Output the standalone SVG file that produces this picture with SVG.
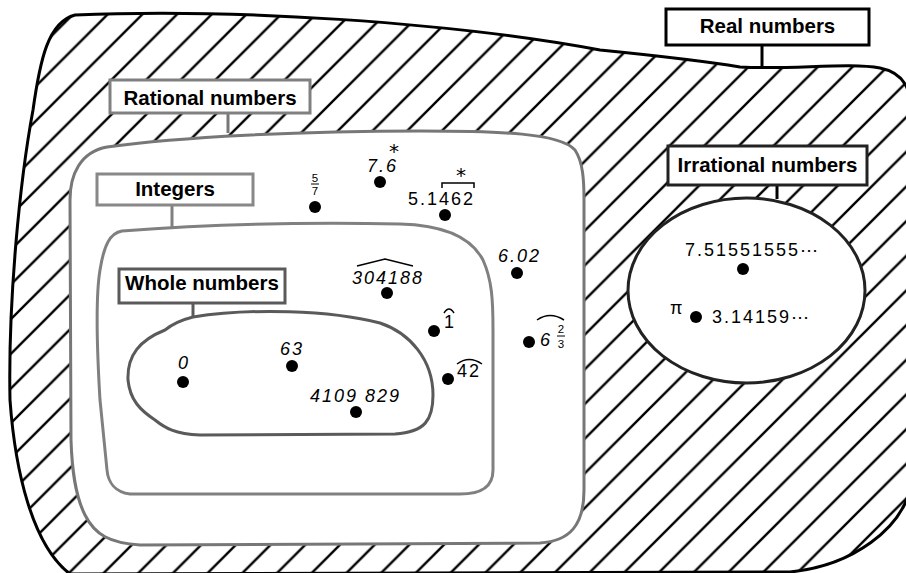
<svg xmlns="http://www.w3.org/2000/svg" width="906" height="573" viewBox="0 0 906 573">
<style>
.lbl{font-family:"Liberation Sans",Arial,sans-serif;font-weight:bold;font-size:20.5px;fill:#000;text-anchor:middle}
.box{fill:#fff;stroke-width:3}
.num{font-family:"Liberation Sans",Arial,sans-serif;font-size:18px;letter-spacing:2px;fill:#000}
.it{font-style:italic}
.irr{font-family:"Liberation Sans",Arial,sans-serif;font-size:18px;letter-spacing:2px;fill:#000}
.frac{font-family:"Liberation Sans",Arial,sans-serif;font-size:11.5px;fill:#000;text-anchor:middle}
.ast{font-family:"DejaVu Sans",sans-serif;font-size:20px;text-anchor:middle;fill:#000}
.dot{fill:#000}
.hat{fill:none;stroke:#000;stroke-width:1.5}
.conn{stroke-width:3}
</style>
<defs>
<pattern id="hatch" patternUnits="userSpaceOnUse" x="18" y="0" width="34.67" height="34.67">
<path d="M-2,2 L2,-2 M0,34.67 L34.67,0 M32.67,36.67 L36.67,32.67" stroke="#000" stroke-width="2.4"/>
</pattern>
</defs>

<g id="real">
<path d="M75,15 C230,8 450,22 600,50 C660,56 710,62 740,67 C790,70 850,62 880,68 C905,73 912,90 912,120 L912,480 C905,530 850,566 790,572 L70,574 C32,545 15,470 10,400 C8,300 20,180 33,110 C40,60 48,22 75,15 Z" fill="url(#hatch)" stroke="#000" stroke-width="3"/>
</g>

<g id="rational">
<path d="M107,147 C180,137 300,131 420,131 C500,131 560,133 575,150 C583,162 584,180 584,200 L584,490 C584,525 570,541 540,543 L140,545 C110,543 95,535 85,515 C75,495 72,470 71,440 L70,200 C70,175 80,152 107,147 Z" fill="#fff" stroke="#777" stroke-width="3"/>
</g>

<g id="integers">
<path d="M122,231 C200,225 300,222 400,224 C440,225 470,235 483,260 C492,280 493,300 493,330 L493,470 C493,488 480,494 460,494 L130,494 C115,492 108,482 107,470 L100,400 C97,350 95,300 100,270 C104,245 110,233 122,231 Z" fill="#fff" stroke="#808080" stroke-width="3"/>
</g>

<g id="whole">
<path d="M193,317 C250,308 330,310 380,323 C410,333 433,360 433,395 C433,420 425,432 395,434 L200,435 C175,434 165,428 155,420 C140,410 130,400 128,380 C127,355 140,340 165,330 C175,322 185,319 193,317 Z" fill="#fff" stroke="#5a5a5a" stroke-width="3"/>
</g>

<g id="irrational">
<ellipse cx="746.5" cy="290.5" rx="118.5" ry="92.5" fill="#fff" stroke="#222" stroke-width="3"/>
</g>

<g id="connectors">
<line class="conn" x1="762" y1="45" x2="762" y2="67" stroke="#000"/>
<line class="conn" x1="777" y1="185" x2="777" y2="199" stroke="#000"/>
<line class="conn" x1="228" y1="113" x2="228" y2="133" stroke="#777"/>
<line class="conn" x1="172" y1="205" x2="172" y2="227" stroke="#808080"/>
<line class="conn" x1="193" y1="303" x2="193" y2="317" stroke="#5a5a5a"/>
</g>

<g id="label-real">
<rect class="box" x="666" y="9" width="203" height="36" stroke="#000"/>
<text class="lbl" x="767.5" y="33">Real numbers</text>
</g>
<g id="label-irrational">
<rect class="box" x="668" y="146" width="199" height="39" stroke="#222"/>
<text class="lbl" x="767.5" y="172">Irrational numbers</text>
</g>
<g id="label-rational">
<rect class="box" x="110" y="80" width="200" height="33" stroke="#808080"/>
<text class="lbl" x="210" y="105">Rational numbers</text>
</g>
<g id="label-integers">
<rect class="box" x="97" y="174" width="156" height="31" stroke="#888"/>
<text class="lbl" x="175" y="196">Integers</text>
</g>
<g id="label-whole">
<rect class="box" x="119" y="269" width="166" height="34" stroke="#5a5a5a"/>
<text class="lbl" x="202" y="290">Whole numbers</text>
</g>

<g id="n-5-7">
<text class="frac" x="315" y="182">5</text>
<line x1="311" y1="184" x2="319" y2="184" stroke="#000" stroke-width="1"/>
<text class="frac" x="315" y="195">7</text>
<circle class="dot" cx="315" cy="207" r="6"/>
</g>
<g id="n-7-6">
<text class="num it" x="367" y="172">7.6</text>
<text class="ast" x="394" y="158">*</text>
<circle class="dot" cx="380" cy="182" r="6"/>
</g>
<g id="n-5-1462">
<text class="num" x="408" y="205">5.1462</text>
<path class="hat" d="M442,188 L442,183 L474,183 L474,188"/>
<text class="ast" x="461" y="182">*</text>
<circle class="dot" cx="445" cy="215" r="6"/>
</g>
<g id="n-304188">
<text class="num it" x="352" y="284">304188</text>
<path class="hat" d="M357,266 L385,259 L413,266"/>
<circle class="dot" cx="387" cy="293" r="6"/>
</g>
<g id="n-6-02">
<text class="num it" x="498" y="262">6.02</text>
<circle class="dot" cx="517" cy="273" r="6"/>
</g>
<g id="n-1">
<text class="num" x="444" y="328">1</text>
<path class="hat" d="M444,313 Q449,305 454,313"/>
<circle class="dot" cx="434" cy="331" r="6"/>
</g>
<g id="n-6-2-3">
<text class="num it" x="540" y="346">6</text>
<text class="frac" x="561" y="333">2</text>
<line x1="557" y1="336" x2="565" y2="336" stroke="#000" stroke-width="1"/>
<text class="frac" x="561" y="348">3</text>
<path class="hat" d="M537,320 Q550,311 564,320"/>
<circle class="dot" cx="529" cy="342" r="6"/>
</g>
<g id="n-42">
<text class="num" x="457" y="377">42</text>
<path class="hat" d="M457,364 Q469,355 482,364"/>
<circle class="dot" cx="448" cy="379" r="6"/>
</g>
<g id="n-0">
<text class="num it" x="178" y="369">0</text>
<circle class="dot" cx="183" cy="382" r="6"/>
</g>
<g id="n-63">
<text class="num it" x="280" y="355">63</text>
<circle class="dot" cx="292" cy="366" r="6"/>
</g>
<g id="n-4109829">
<text class="num it" x="310" y="402">4109 829</text>
<circle class="dot" cx="356" cy="412" r="6"/>
</g>
<g id="n-7-515">
<text class="irr" x="685" y="256">7.51551555⋯</text>
<circle class="dot" cx="743" cy="269" r="6"/>
</g>
<g id="n-pi">
<text class="irr" x="670" y="314">π</text>
<circle class="dot" cx="696" cy="317" r="6"/>
<text class="irr" x="712" y="323">3.14159⋯</text>
</g>
</svg>
